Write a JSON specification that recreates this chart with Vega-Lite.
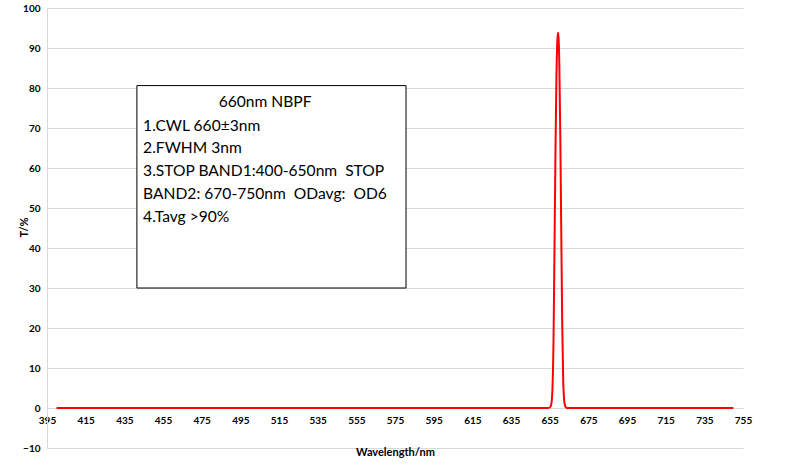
{
  "$schema": "https://vega.github.io/schema/vega-lite/v6.json",
  "width": 696,
  "height": 440,
  "autosize": {"type": "none"},
  "padding": {"left": 47, "top": 8, "right": 46, "bottom": 23},
  "background": "#ffffff",
  "config": {
    "font": "Lato",
    "view": {"stroke": null},
    "axis": {
      "labelFont": "Lato",
      "labelFontWeight": "bold",
      "labelFontSize": 10,
      "labelColor": "#000000",
      "labelOverlap": false,
      "labelBound": false,
      "labelFlush": false,
      "titleFont": "Lato",
      "titleFontWeight": "bold",
      "titleFontSize": 11,
      "titleColor": "#000000",
      "gridColor": "#d9d9d9",
      "gridWidth": 1,
      "ticks": false,
      "tickCount": 40
    }
  },
  "layer": [
    {
      "data": {
        "values": [
          {"wl": 400, "t": 0},
          {"wl": 500, "t": 0},
          {"wl": 600, "t": 0},
          {"wl": 650, "t": 0},
          {"wl": 654, "t": 0},
          {"wl": 655, "t": 0.1},
          {"wl": 655.5, "t": 0.4},
          {"wl": 656, "t": 1.5},
          {"wl": 656.5, "t": 5.5},
          {"wl": 657, "t": 17},
          {"wl": 657.5, "t": 40},
          {"wl": 658, "t": 64},
          {"wl": 658.5, "t": 83},
          {"wl": 659, "t": 92},
          {"wl": 659.3, "t": 93.8},
          {"wl": 659.6, "t": 92.5},
          {"wl": 660, "t": 86},
          {"wl": 660.5, "t": 68},
          {"wl": 661, "t": 44},
          {"wl": 661.5, "t": 21},
          {"wl": 662, "t": 7},
          {"wl": 662.5, "t": 2},
          {"wl": 663, "t": 0.5},
          {"wl": 663.5, "t": 0.1},
          {"wl": 664, "t": 0},
          {"wl": 700, "t": 0},
          {"wl": 750, "t": 0}
        ]
      },
      "mark": {"type": "line", "color": "#ff0000", "strokeWidth": 2, "interpolate": "monotone"},
      "encoding": {
        "x": {
          "field": "wl",
          "type": "quantitative",
          "scale": {"domain": [395, 755], "nice": false, "zero": false},
          "axis": {
            "values": [395, 415, 435, 455, 475, 495, 515, 535, 555, 575, 595, 615, 635, 655, 675, 695, 715, 735, 755],
            "tickCount": 40,
            "labelOverlap": false,
            "grid": false,
            "domain": false,
            "offset": -40,
            "labelPadding": 7,
            "title": "Wavelength/nm",
            "titleY": 44,
            "titleBaseline": "middle"
          }
        },
        "y": {
          "field": "t",
          "type": "quantitative",
          "scale": {"domain": [-10, 100], "nice": false, "zero": false},
          "axis": {
            "values": [-10, 0, 10, 20, 30, 40, 50, 60, 70, 80, 90, 100],
            "tickCount": 40,
            "labelOverlap": false,
            "grid": true,
            "domain": true,
            "domainColor": "#d9d9d9",
            "labelPadding": 7,
            "title": "T/%",
            "titleX": -23,
            "titleY": 219,
            "titleAlign": "center",
            "titleBaseline": "middle"
          }
        }
      }
    },
    {
      "data": {"values": [{}]},
      "mark": {"type": "rect", "fill": "#ffffff", "stroke": "#000000", "strokeWidth": 1},
      "encoding": {
        "x": {"datum": 441.5, "type": "quantitative"},
        "x2": {"datum": 580.7},
        "y": {"datum": 80.6, "type": "quantitative"},
        "y2": {"datum": 30}
      }
    },
    {
      "data": {"values": [{}]},
      "mark": {"type": "text", "font": "Lato", "fontSize": 15.6, "color": "#000000", "align": "center", "baseline": "middle"},
      "encoding": {
        "x": {"datum": 507.8, "type": "quantitative"},
        "y": {"datum": 76.6, "type": "quantitative"},
        "text": {"value": "660nm NBPF"}
      }
    },
    {
      "data": {"values": [{}]},
      "mark": {"type": "text", "font": "Lato", "fontSize": 15.6, "color": "#000000", "align": "left", "baseline": "middle", "lineHeight": 22.8},
      "encoding": {
        "x": {"datum": 444.7, "type": "quantitative"},
        "y": {"datum": 70.6, "type": "quantitative"},
        "text": {"value": ["1.CWL 660±3nm", "2.FWHM 3nm", "3.STOP BAND1:400-650nm \u00a0STOP", "BAND2: 670-750nm \u00a0ODavg: \u00a0OD6", "4.Tavg >90%"]}
      }
    }
  ]
}
